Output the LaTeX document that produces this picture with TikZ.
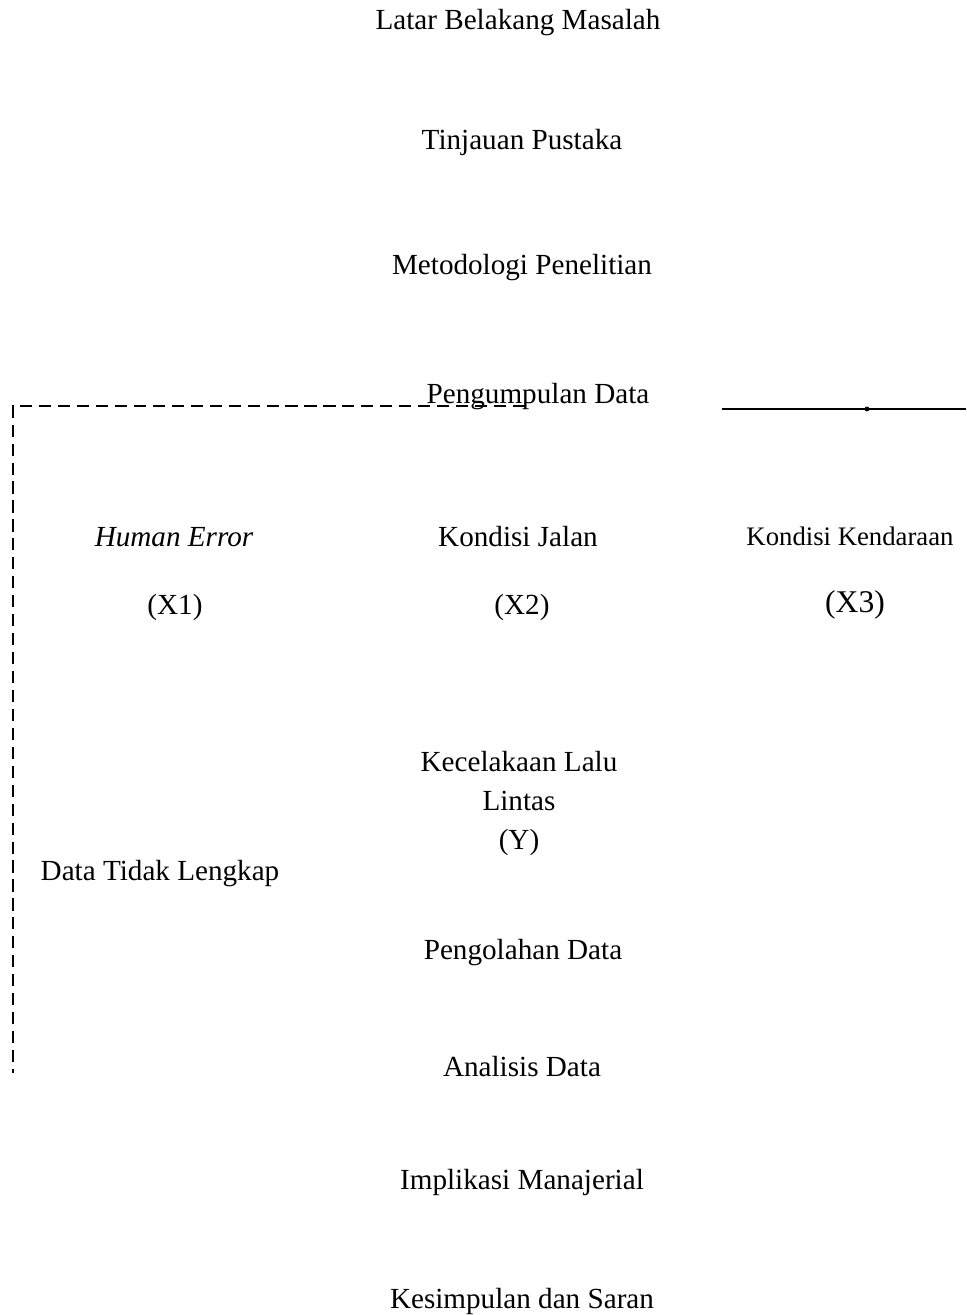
\documentclass[tikz,border=0pt]{standalone}
\usepackage{fontspec}
\setmainfont{Liberation Serif}
\begin{document}
\begin{tikzpicture}[x=0.4116pt,y=-0.4116pt,
  txt/.style={anchor=base,inner sep=0pt,font=\fontsize{12}{16}\selectfont},
  dashline/.style={line width=1.2pt,dash pattern=on 5pt off 2.8pt},
  solidline/.style={line width=0.9pt}]
\useasboundingbox (0,0) rectangle (966,1315);

% Main steps down the middle
\node[txt] (latar) at (518,30) {Latar Belakang Masalah};
\node[txt] (tinjauan) at (522,149) {Tinjauan Pustaka};
\node[txt] (metodologi) at (522,274) {Metodologi Penelitian};
\node[txt] (pengumpulan) at (538,403) {Pengumpulan Data};

% Variables
\node[txt,font=\fontsize{12}{16}\selectfont\itshape] (x1) at (174,546) {Human Error};
\node[txt] (x1lbl) at (175,614) {(X1)};
\node[txt] (x2) at (518,546) {Kondisi Jalan};
\node[txt] (x2lbl) at (522,614) {(X2)};
\node[txt,font=\fontsize{11}{14}\selectfont] (x3) at (850,545) {Kondisi Kendaraan};
\node[txt,font=\fontsize{13}{16}\selectfont] (x3lbl) at (855,612) {(X3)};

% base of a multi-line node is the last line
\node[txt,align=center] (y) at (519,849) {Kecelakaan Lalu\\Lintas\\(Y)};
\node[txt] (tidaklengkap) at (160,880) {Data Tidak Lengkap};

\node[txt] (pengolahan) at (523,959) {Pengolahan Data};
\node[txt] (analisis) at (522,1076) {Analisis Data};
\node[txt] (implikasi) at (522,1189) {Implikasi Manajerial};
\node[txt] (kesimpulan) at (522,1308) {Kesimpulan dan Saran};

% Lines
\coordinate (dstart) at (525,406);
\coordinate (dcorner) at (13,406);
\coordinate (dend) at (13,1073);
\draw[dashline] (dstart) -- (dcorner) -- (dend);

\coordinate (sstart) at (722,409);
\coordinate (smid) at (867,409);
\coordinate (send) at (966,409);
\draw[solidline] (sstart) -- (smid) -- (send);
\fill (smid) circle (1pt);

\end{tikzpicture}
\end{document}
